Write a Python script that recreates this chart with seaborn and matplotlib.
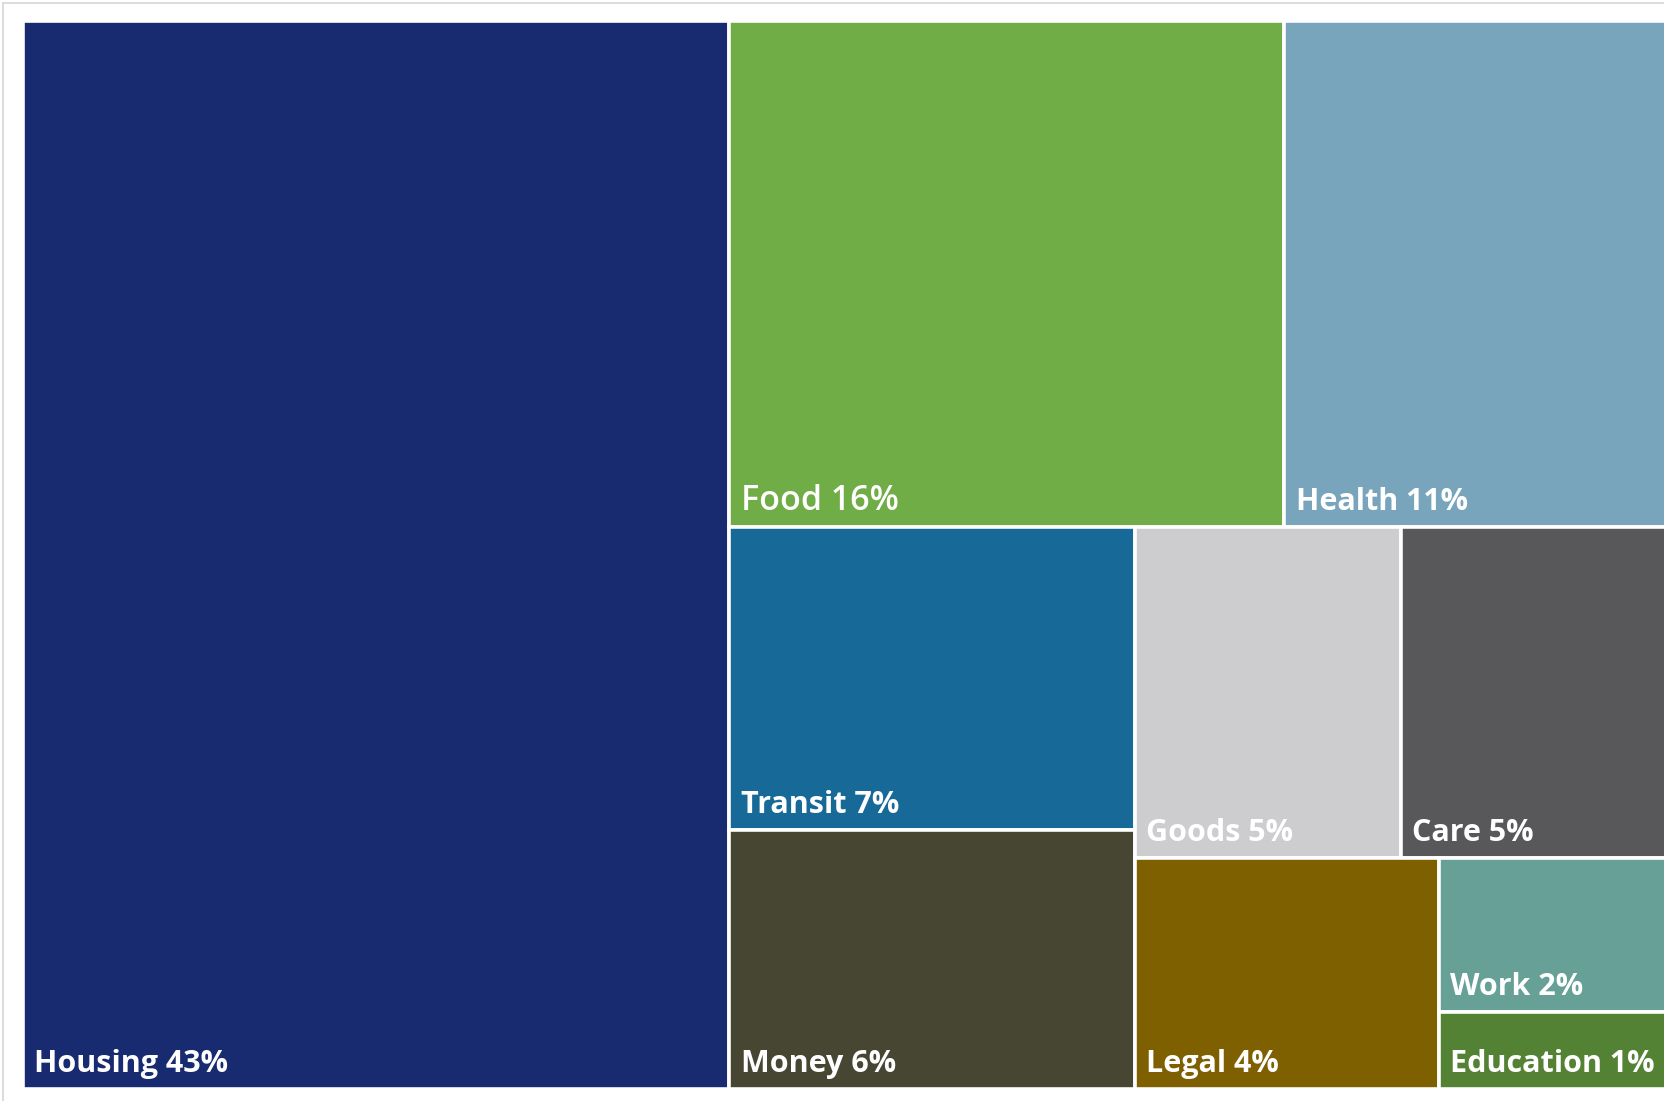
import matplotlib
matplotlib.use("Agg")
import matplotlib.pyplot as plt
from matplotlib.patches import Rectangle
from matplotlib.lines import Line2D
import seaborn as sns
import pandas as pd

# ---- data ----
categories = ["Housing", "Food", "Health", "Transit", "Money", "Goods", "Care", "Legal", "Work", "Education"]
shares = [43, 16, 11, 7, 6, 5, 5, 4, 2, 1]
colors = ["#192B70", "#70AD47", "#78A5BC", "#176A98", "#474632", "#CDCDCF",
          "#58585A", "#7E6000", "#66A096", "#548235"]

df = pd.DataFrame({"category": categories, "share": shares, "color": colors})

sns.set_theme(style="white")
plt.rcParams["font.family"] = ["Open Sans", "DejaVu Sans"]

W, H = 1643.0, 1068.0


def worst(row, side):
    s = sum(row)
    return max(max(side ** 2 * r / s ** 2, s ** 2 / (side ** 2 * r)) for r in row)


def squarify(vals, x, y, w, h):
    rects = []
    vals = list(vals)
    while vals:
        side = min(w, h)
        row = [vals[0]]
        i = 1
        while i < len(vals) and worst(row + [vals[i]], side) <= worst(row, side):
            row.append(vals[i])
            i += 1
        s = sum(row)
        if w >= h:
            cw = s / h
            cy = y
            for r in row:
                rh = r / cw
                rects.append((x, cy, cw, rh))
                cy += rh
            x += cw
            w -= cw
        else:
            rh = s / w
            cx = x
            for r in row:
                rw = r / rh
                rects.append((cx, y, rw, rh))
                cx += rw
            y += rh
            h -= rh
        vals = vals[i:]
    return rects


total = df["share"].sum()
areas = [v / total * W * H for v in df["share"]]
rects = squarify(areas, 0.0, 0.0, W, H)

fig = plt.figure(figsize=(16.65, 11.01), dpi=100)
fig.patch.set_facecolor("white")
ax = fig.add_axes([23 / 1665, (1101 - 1089) / 1101, W / 1665, H / 1101])
ax.set_xlim(0, W)
ax.set_ylim(H, 0)
ax.axis("off")

label_style = {"fontsize": 22, "fontweight": "bold"}
label_override = {"Food": {"fontsize": 24.5, "fontweight": "semibold"}}

for (x, y, w, h), row in zip(rects, df.itertuples()):
    ax.add_patch(Rectangle((x, y), w, h, facecolor=row.color, edgecolor="white",
                           linewidth=2.6, clip_on=False))
    style = dict(label_style, **label_override.get(row.category, {}))
    ax.annotate(f"{row.category} {row.share}%", xy=(x, y + h), xytext=(8.0, 12),
                textcoords="offset points", ha="left", va="baseline",
                color="white", **style)

# light frame at top-left
fig.add_artist(Line2D([3.5 / 1665, 3.5 / 1665], [0, 1 - 3 / 1101], transform=fig.transFigure,
                      color="#d9d9d9", lw=1.3))
fig.add_artist(Line2D([3.5 / 1665, 1], [1 - 3 / 1101, 1 - 3 / 1101], transform=fig.transFigure,
                      color="#d9d9d9", lw=1.3))

fig.savefig("out.png", dpi=100)
